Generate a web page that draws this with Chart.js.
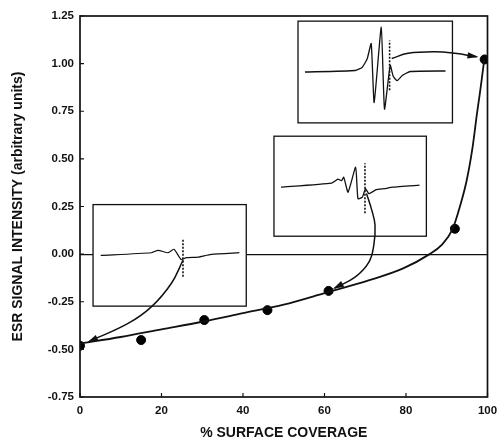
<!DOCTYPE html>
<html>
<head>
<meta charset="utf-8">
<script src="https://cdn.jsdelivr.net/npm/chart.js@4/dist/chart.umd.min.js"></script>
<style>
html,body{margin:0;padding:0;background:#fff;}
#wrap{width:497px;height:446px;position:relative;}
</style>
</head>
<body>
<div id="wrap"><canvas id="c" width="497" height="446"></canvas></div>
<script>
// ---- measured data ----
const coverage  = [0, 15, 30.5, 46, 61, 92, 99.3];
const intensity = [-0.481, -0.451, -0.346, -0.294, -0.193, 0.133, 1.022];

// smooth fitted curve through the data
const fitX = [0, 10, 20, 30, 40, 50, 60, 71, 79.3, 85.8, 88.7, 91.4, 93.2, 94.9, 96.4, 97.4, 98.1, 98.6, 99.2];
const fitY = [-0.47, -0.435, -0.395, -0.355, -0.31, -0.265, -0.205, -0.137, -0.075, 0.0, 0.047, 0.13, 0.248, 0.388, 0.57, 0.735, 0.84, 0.92, 1.02];

const xTickValues = [0, 20, 40, 60, 80, 100];
const yTickValues = [-0.75, -0.5, -0.25, 0, 0.25, 0.5, 0.75, 1.0, 1.25];

// inset boxes (in main-axis data units)
const insetLeft   = [53.5, 47.6, 3.2];
const insetRight  = [91.4, 85.0, 40.8];
const insetBottom = [0.689, 0.094, -0.273];
const insetTop    = [1.223, 0.619, 0.26];

// ESR spectra inside each inset (fraction of inset width u, height v)
const spec1U = [0.045, 0.37, 0.415, 0.448, 0.474, 0.493, 0.539, 0.56, 0.597, 0.617, 0.643, 0.675, 0.727, 0.955];
const spec1V = [0.50, 0.515, 0.545, 0.63, 0.78, 0.20, 0.94, 0.135, 0.565, 0.455, 0.415, 0.465, 0.505, 0.51];
const spec2U = [0.046, 0.377, 0.42, 0.443, 0.458, 0.486, 0.536, 0.551, 0.58, 0.60, 0.623, 0.671, 0.725, 0.778, 0.955];
const spec2V = [0.49, 0.53, 0.57, 0.555, 0.59, 0.44, 0.69, 0.375, 0.39, 0.475, 0.425, 0.465, 0.475, 0.49, 0.51];
const spec3U = [0.05, 0.38, 0.425, 0.49, 0.528, 0.576, 0.609, 0.685, 0.772, 0.955];
const spec3V = [0.50, 0.526, 0.55, 0.526, 0.56, 0.458, 0.477, 0.483, 0.51, 0.526];

// dashed marker in each inset
const markU  = [0.593, 0.597, 0.587];
const markV0 = [0.32, 0.23, 0.29];
const markV1 = [0.81, 0.73, 0.66];

// arrows from insets to data points
const arrow1X = [76.5, 80.5, 87.1, 92.0, 97.3];
const arrow1Y = [1.027, 1.054, 1.062, 1.054, 1.036];
const arrow2X = [70.3, 71.6, 72.4, 72.1, 70.9, 67.5, 62.5];
const arrow2Y = [0.319, 0.231, 0.152, 0.047, -0.042, -0.121, -0.178];
const arrow3X = [25.3, 22.4, 17.5, 11.8, 2.2];
const arrow3Y = [-0.031, -0.154, -0.277, -0.364, -0.459];

// ---- build datasets ----
const zip = (xs, ys) => xs.map((x, i) => ({x: x, y: ys[i]}));
function spectrum(k, us, vs) {
  return us.map((u, i) => ({
    x: insetLeft[k] + u * (insetRight[k] - insetLeft[k]),
    y: insetBottom[k] + vs[i] * (insetTop[k] - insetBottom[k])
  }));
}
function marker(k) {
  const x = insetLeft[k] + markU[k] * (insetRight[k] - insetLeft[k]);
  return [
    {x: x, y: insetBottom[k] + markV0[k] * (insetTop[k] - insetBottom[k])},
    {x: x, y: insetBottom[k] + markV1[k] * (insetTop[k] - insetBottom[k])}
  ];
}
const lineBase = {type: 'line', showLine: true, pointRadius: 0, borderColor: '#111', fill: false};
const datasets = [
  Object.assign({}, lineBase, {data: spectrum(0, spec1U, spec1V), borderWidth: 1.3, tension: 0.15}),
  Object.assign({}, lineBase, {data: spectrum(1, spec2U, spec2V), borderWidth: 1.3, tension: 0.15}),
  Object.assign({}, lineBase, {data: spectrum(2, spec3U, spec3V), borderWidth: 1.2, tension: 0.2}),
  Object.assign({}, lineBase, {data: marker(0), borderWidth: 1.6, borderDash: [2, 1.5]}),
  Object.assign({}, lineBase, {data: marker(1), borderWidth: 1.6, borderDash: [2, 1.5]}),
  Object.assign({}, lineBase, {data: marker(2), borderWidth: 1.6, borderDash: [2, 1.5]}),
  Object.assign({}, lineBase, {data: zip(fitX, fitY), borderWidth: 1.8, cubicInterpolationMode: 'monotone'}),
  {type: 'scatter', data: zip(coverage, intensity), pointRadius: 4.5, pointBackgroundColor: '#000', pointBorderColor: '#000', showLine: false},
  Object.assign({}, lineBase, {data: zip(arrow1X, arrow1Y), borderWidth: 1.5, tension: 0.4, isArrow: true}),
  Object.assign({}, lineBase, {data: zip(arrow2X, arrow2Y), borderWidth: 1.5, tension: 0.4, isArrow: true}),
  Object.assign({}, lineBase, {data: zip(arrow3X, arrow3Y), borderWidth: 1.5, tension: 0.4, isArrow: true})
];

// ---- plugins ----
const insetPlugin = {
  id: 'insets',
  beforeDatasetsDraw(chart) {
    const {ctx, scales: {x, y}} = chart;
    ctx.save();
    for (let k = 0; k < insetLeft.length; k++) {
      const l = x.getPixelForValue(insetLeft[k]), r = x.getPixelForValue(insetRight[k]);
      const t = y.getPixelForValue(insetTop[k]), b = y.getPixelForValue(insetBottom[k]);
      ctx.fillStyle = '#fff';
      ctx.fillRect(l, t, r - l, b - t);
      ctx.strokeStyle = '#111';
      ctx.lineWidth = 1.3;
      ctx.strokeRect(l, t, r - l, b - t);
    }
    ctx.restore();
  }
};
const framePlugin = {
  id: 'frame',
  afterDatasetsDraw(chart) {
    const {ctx, chartArea: a, scales: {x, y}} = chart;
    ctx.save();
    // arrowheads
    chart.data.datasets.forEach((ds) => {
      if (!ds.isArrow) return;
      const n = ds.data.length;
      const p1 = ds.data[n - 2], p2 = ds.data[n - 1];
      const x1 = x.getPixelForValue(p1.x), y1 = y.getPixelForValue(p1.y);
      const x2 = x.getPixelForValue(p2.x), y2 = y.getPixelForValue(p2.y);
      const ang = Math.atan2(y2 - y1, x2 - x1);
      const L = 9, W = 3.2;
      ctx.fillStyle = '#111';
      ctx.beginPath();
      ctx.moveTo(x2 + Math.cos(ang) * 2, y2 + Math.sin(ang) * 2);
      ctx.lineTo(x2 - Math.cos(ang) * L - Math.sin(ang) * W, y2 - Math.sin(ang) * L + Math.cos(ang) * W);
      ctx.lineTo(x2 - Math.cos(ang) * L + Math.sin(ang) * W, y2 - Math.sin(ang) * L - Math.cos(ang) * W);
      ctx.closePath();
      ctx.fill();
    });
    // frame
    ctx.strokeStyle = '#111';
    ctx.lineWidth = 1.7;
    ctx.strokeRect(a.left, a.top, a.right - a.left, a.bottom - a.top);
    // inward tick marks
    ctx.lineWidth = 1.2;
    ctx.beginPath();
    x.ticks.forEach(t => {
      const px = x.getPixelForValue(t.value);
      ctx.moveTo(px, a.bottom); ctx.lineTo(px, a.bottom - 4);
    });
    y.ticks.forEach(t => {
      const py = y.getPixelForValue(t.value);
      ctx.moveTo(a.left, py); ctx.lineTo(a.left + 4, py);
    });
    ctx.stroke();
    ctx.restore();
  }
};

const tickFont = {family: "'Liberation Sans', Arial, sans-serif", size: 11.5, weight: 'bold'};
const titleFont = {family: "'Liberation Sans', Arial, sans-serif", size: 14, weight: 'bold'};

new Chart(document.getElementById('c'), {
  type: 'scatter',
  data: {datasets: datasets},
  plugins: [insetPlugin, framePlugin],
  options: {
    responsive: false,
    animation: false,
    layout: {padding: {top: 16, right: 0, left: 4, bottom: 4}},
    plugins: {legend: {display: false}, tooltip: {enabled: false}},
    scales: {
      x: {
        type: 'linear', min: 0, max: 100,
        afterBuildTicks: s => { s.ticks = xTickValues.map(v => ({value: v})); },
        afterFit: s => { s.height = 45; s.paddingRight = 9.5; },
        grid: {display: false, drawTicks: false},
        border: {display: false},
        ticks: {color: '#111', font: tickFont, padding: 7, maxRotation: 0, callback: v => String(v)},
        title: {display: true, text: '% SURFACE COVERAGE', color: '#111', font: titleFont, padding: {top: 5, bottom: 0}}
      },
      y: {
        type: 'linear', min: -0.75, max: 1.25,
        afterBuildTicks: s => { s.ticks = yTickValues.map(v => ({value: v})); },
        afterFit: s => { s.width = 76; },
        grid: {drawTicks: false, lineWidth: 1.2, color: c => (c.tick && c.tick.value === 0) ? '#111' : 'rgba(0,0,0,0)'},
        border: {display: false},
        ticks: {color: '#111', font: tickFont, padding: 6, callback: v => v.toFixed(2)},
        title: {display: true, text: 'ESR SIGNAL INTENSITY (arbitrary units)', color: '#111', font: titleFont, padding: {top: 6, bottom: 2}}
      }
    }
  }
});
</script>
</body>
</html>
